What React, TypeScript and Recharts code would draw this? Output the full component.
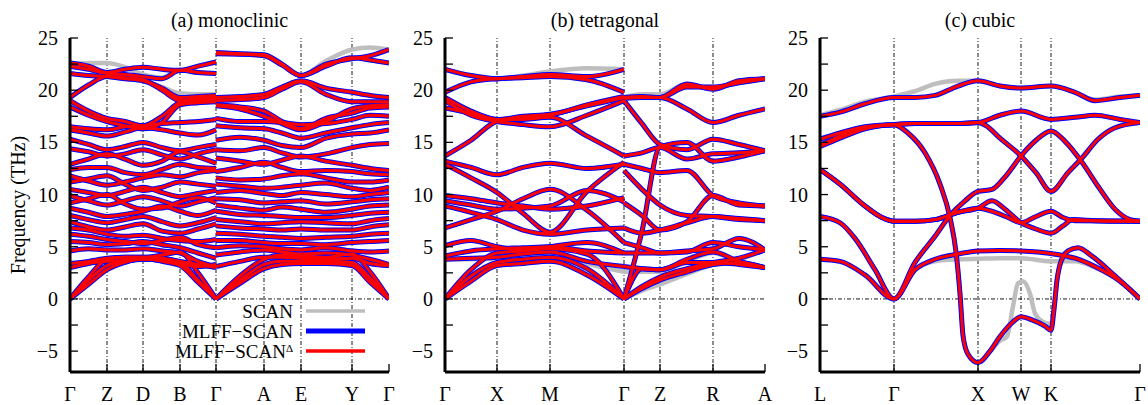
import React from 'react';
import { LineChart, Line, XAxis, YAxis, ReferenceLine } from 'recharts';

const FONT = 'Liberation Serif, DejaVu Serif, serif';
const SCAN_COLOR = '#bebebe';
const MLFF_COLOR = '#0000ff';
const DELTA_COLOR = '#ff0000';

const Y_TICKS = [-5, -2.5, 0, 2.5, 5, 7.5, 10, 12.5, 15, 17.5, 20, 22.5, 25];

// ---------- (a) monoclinic ----------
const MONO_TICKS = [0, 0.37, 0.73, 1.1, 1.46, 1.94, 2.31, 2.82, 3.19];
const MONO_LABELS = ['Γ', 'Z', 'D', 'B', 'Γ', 'A', 'E', 'Y', 'Γ'];
const MONO_K1 = [0, 0.185, 0.37, 0.55, 0.73, 0.92, 1.1, 1.28, 1.46];
const MONO_K2 = [1.46, 1.7, 1.94, 2.12, 2.31, 2.56, 2.82, 3.0, 3.19];
const MONO_SEG1 = [
  [22.6, 22.3, 21.7, 22.0, 22.2, 22.0, 21.9, 22.3, 22.7],
  [22.3, 22.0, 21.6, 21.5, 21.3, 21.1, 21.9, 21.7, 21.6],
  [21.6, 21.4, 21.3, 21.1, 20.9, 20.2, 19.3, 19.4, 19.5],
  [19.3, 20.5, 21.3, 21.2, 21.0, 20.0, 19.0, 19.2, 19.3],
  [19.0, 18.0, 17.3, 17.0, 16.6, 17.5, 18.8, 19.0, 19.1],
  [18.4, 17.6, 17.0, 16.6, 16.3, 16.9, 18.6, 18.8, 18.9],
  [16.5, 16.3, 16.2, 16.5, 16.6, 16.8, 16.9, 17.0, 17.2],
  [16.2, 15.9, 15.6, 16.0, 16.4, 16.2, 15.9, 15.7, 16.2],
  [15.3, 14.8, 14.3, 14.6, 15.0, 14.5, 14.2, 14.5, 14.8],
  [14.4, 14.1, 13.7, 13.9, 14.3, 13.8, 13.4, 13.9, 14.3],
  [12.9, 13.4, 13.9, 13.4, 12.8, 13.2, 14.1, 13.6, 13.0],
  [12.4, 12.6, 12.6, 12.1, 11.9, 12.4, 12.9, 12.6, 12.5],
  [11.8, 11.3, 10.9, 11.2, 11.6, 11.9, 11.7, 12.1, 12.3],
  [11.2, 11.5, 11.8, 11.0, 10.4, 10.7, 11.2, 11.0, 10.8],
  [10.5, 10.2, 9.9, 10.3, 10.7, 10.2, 9.8, 10.1, 10.4],
  [9.9, 9.4, 9.0, 9.4, 9.8, 9.4, 8.9, 9.3, 9.7],
  [9.2, 9.6, 10.0, 9.1, 8.6, 8.7, 9.3, 9.7, 9.2],
  [8.7, 8.3, 7.9, 8.1, 8.4, 8.9, 8.4, 8.0, 8.5],
  [8.0, 7.6, 7.3, 7.6, 7.9, 7.4, 7.0, 7.3, 7.8],
  [7.4, 6.9, 6.6, 6.9, 7.2, 6.5, 6.3, 6.7, 7.2],
  [6.8, 6.6, 6.2, 6.0, 6.1, 5.8, 5.6, 5.5, 5.7],
  [6.2, 6.0, 5.7, 5.5, 5.3, 5.6, 5.9, 5.2, 4.9],
  [5.5, 5.4, 5.2, 5.3, 5.5, 5.2, 4.9, 4.4, 3.9],
  [4.6, 4.8, 4.7, 4.7, 4.8, 4.6, 4.4, 3.6, 3.1],
  [3.4, 3.6, 3.9, 4.0, 4.0, 3.9, 3.6, 3.3, 3.0],
  [3.0, 3.4, 3.6, 3.7, 3.8, 3.7, 3.4, 3.1, 3.3],
  [0, 2.1, 3.8, 4.0, 4.0, 4.2, 4.5, 2.5, 0],
  [0, 1.8, 3.2, 3.6, 3.8, 3.8, 3.5, 1.8, 0],
  [0, 1.4, 2.8, 3.5, 3.9, 3.6, 3.2, 1.6, 0],
];
const MONO_SEG2 = [
  [23.6, 23.5, 23.4, 22.5, 21.4, 22.5, 23.0, 23.3, 23.9],
  [23.5, 23.45, 23.3, 22.4, 21.4, 22.3, 23.1, 22.9, 22.6],
  [19.3, 19.4, 19.6, 20.3, 20.9, 20.2, 19.8, 19.5, 19.3],
  [19.0, 19.1, 19.3, 20.1, 20.8, 19.6, 18.9, 18.9, 18.9],
  [18.5, 18.2, 17.5, 16.8, 16.2, 17.0, 18.2, 18.5, 18.6],
  [18.6, 18.4, 18.0, 17.0, 16.3, 17.3, 17.8, 18.3, 18.4],
  [17.3, 17.0, 17.0, 16.9, 16.7, 16.8, 17.2, 17.6, 17.5],
  [16.6, 16.4, 16.3, 15.9, 15.4, 15.9, 16.4, 16.7, 16.9],
  [15.2, 15.5, 15.2, 14.7, 14.5, 15.4, 15.8, 15.9, 16.2],
  [14.3, 14.2, 14.5, 14.0, 13.6, 13.9, 14.5, 14.8, 14.9],
  [13.5, 13.2, 12.9, 13.3, 13.7, 13.2, 12.8, 12.5, 12.3],
  [12.2, 12.6, 13.1, 12.6, 12.2, 12.3, 12.2, 12.0, 11.9],
  [11.6, 11.4, 11.5, 11.8, 12.0, 11.6, 11.2, 11.2, 11.4],
  [11.0, 10.8, 10.6, 10.7, 10.9, 11.1, 10.6, 10.4, 10.7],
  [10.2, 10.4, 10.1, 9.9, 10.2, 10.0, 9.8, 10.0, 10.2],
  [9.6, 9.5, 9.2, 9.3, 9.4, 9.1, 9.3, 9.5, 9.6],
  [9.0, 8.7, 8.5, 8.8, 8.6, 8.3, 8.6, 8.9, 9.0],
  [8.4, 8.1, 8.0, 7.9, 7.8, 7.8, 8.0, 8.2, 8.3],
  [7.6, 7.4, 7.2, 7.3, 7.4, 7.3, 7.2, 7.5, 7.7],
  [7.0, 6.8, 6.7, 6.6, 6.7, 6.6, 6.6, 6.9, 7.1],
  [6.3, 6.2, 6.0, 5.9, 5.8, 5.9, 6.0, 6.2, 6.3],
  [5.6, 5.6, 5.4, 5.3, 5.3, 5.2, 5.4, 5.5, 5.6],
  [4.9, 5.1, 5.0, 4.8, 4.7, 4.9, 4.6, 4.5, 4.6],
  [4.2, 4.5, 4.7, 4.5, 4.3, 4.4, 4.2, 3.8, 3.3],
  [3.1, 3.6, 4.0, 4.0, 3.9, 3.8, 3.9, 3.4, 3.2],
  [0, 2.2, 3.8, 4.2, 4.1, 4.0, 4.3, 2.6, 0],
  [0, 1.8, 3.3, 3.6, 3.6, 3.6, 3.5, 2.0, 0],
  [0, 1.5, 2.9, 3.3, 3.4, 3.4, 3.2, 1.6, 0],
];
// SCAN bands that differ visibly from the MLFF ones (band index -> values)
const MONO_SCAN_SEG1: Record<number, number[]> = {
  1: [22.4, 22.6, 22.6, 22.2, 21.5, 21.2, 21.9, 21.7, 21.6],
  2: [21.6, 21.4, 21.3, 21.1, 20.9, 20.3, 19.7, 19.6, 19.6],
};
const MONO_SCAN_SEG2: Record<number, number[]> = {
  0: [23.6, 23.5, 23.4, 22.5, 21.4, 22.8, 23.9, 24.1, 23.9],
};

// ---------- (b) tetragonal ----------
const TET_TICKS = [0, 0.52, 1.05, 1.79, 2.15, 2.68, 3.2];
const TET_LABELS = ['Γ', 'X', 'M', 'Γ', 'Z', 'R', 'A'];
const TET_K1 = [0, 0.26, 0.52, 0.78, 1.05, 1.42, 1.79];
const TET_K2 = [1.79, 1.97, 2.15, 2.42, 2.68, 2.94, 3.2];
const TET_SEG1 = [
  [22.0, 21.4, 21.1, 21.3, 21.5, 21.3, 22.0],
  [19.8, 20.8, 21.1, 21.2, 21.3, 21.0, 19.8],
  [19.3, 18.0, 17.2, 17.5, 17.7, 18.5, 19.3],
  [19.0, 17.6, 17.0, 16.7, 16.5, 17.6, 19.0],
  [18.3, 17.8, 17.2, 17.2, 17.4, 15.6, 13.7],
  [13.7, 15.2, 17.0, 17.3, 17.6, 18.6, 19.4],
  [13.2, 12.6, 11.9, 12.6, 13.0, 12.5, 12.9],
  [12.9, 11.6, 10.2, 8.2, 6.4, 10.3, 13.1],
  [9.9, 9.6, 9.2, 8.9, 8.6, 8.9, 9.7],
  [9.4, 9.0, 8.6, 8.7, 8.9, 10.4, 9.3],
  [8.9, 8.3, 7.6, 6.6, 6.2, 6.6, 6.8],
  [6.8, 7.6, 8.4, 9.6, 10.5, 8.5, 5.4],
  [5.1, 5.6, 5.0, 4.7, 5.0, 5.4, 4.4],
  [4.1, 4.6, 4.8, 4.9, 5.0, 4.6, 4.4],
  [3.8, 3.9, 4.0, 4.3, 4.5, 3.6, 3.1],
  [0, 2.8, 4.4, 4.6, 4.8, 4.3, 0],
  [0, 2.2, 3.5, 3.8, 4.0, 2.9, 0],
  [0, 1.7, 3.2, 3.4, 3.6, 2.3, 0],
];
const TET_SEG2 = [
  [19.3, 19.4, 19.3, 20.6, 20.1, 20.9, 21.1],
  [19.2, 19.3, 19.3, 20.3, 20.3, 20.7, 21.1],
  [19.3, 19.3, 19.3, 18.2, 16.9, 17.6, 18.2],
  [19.0, 16.8, 14.8, 14.3, 15.3, 14.8, 14.2],
  [13.7, 14.0, 14.5, 13.4, 13.9, 14.0, 14.2],
  [12.9, 12.5, 12.1, 12.3, 9.9, 9.2, 8.9],
  [9.2, 8.0, 6.6, 7.4, 9.9, 9.0, 8.9],
  [0, 6.5, 14.6, 15.0, 13.2, 13.6, 14.2],
  [12.3, 10.5, 9.0, 8.0, 7.9, 7.6, 7.5],
  [6.8, 6.3, 6.6, 7.3, 7.9, 7.7, 7.5],
  [5.4, 4.9, 4.4, 4.5, 5.4, 5.0, 4.7],
  [4.4, 4.4, 4.4, 4.6, 4.8, 5.8, 4.7],
  [3.1, 2.9, 2.8, 3.8, 4.5, 3.6, 3.0],
  [0, 2.9, 2.8, 3.5, 3.5, 3.3, 3.0],
  [0, 1.2, 2.1, 2.9, 3.5, 3.9, 4.7],
  [0, 1.0, 1.8, 2.6, 3.3, 3.5, 3.0],
];
const TET_SCAN_SEG1: Record<number, number[]> = {
  0: [22.0, 21.4, 21.1, 21.4, 21.8, 22.1, 22.0],
  14: [3.8, 3.8, 3.9, 4.2, 4.4, 3.4, 2.6],
};
const TET_SCAN_SEG2: Record<number, number[]> = {
  0: [19.3, 19.6, 19.6, 20.6, 20.1, 20.9, 21.1],
  12: [2.6, 2.6, 2.6, 3.6, 4.4, 3.6, 3.0],
  14: [0, 0.8, 1.4, 2.4, 3.3, 3.8, 4.7],
};

// ---------- (c) cubic ----------
const CUB_TICKS = [0, 0.74, 1.58, 2.01, 2.31, 3.2];
const CUB_LABELS = ['L', 'Γ', 'X', 'W', 'K', 'Γ'];
// each band: [k, frequency] pairs
const CUB_BANDS: number[][][] = [
  [[0, 17.5], [0.2, 17.9], [0.45, 18.7], [0.74, 19.3], [0.95, 19.3], [1.15, 19.5], [1.38, 20.4], [1.58, 20.9], [1.8, 20.4], [2.01, 20.2], [2.31, 20.4], [2.55, 19.8], [2.75, 19.0], [3.0, 19.3], [3.2, 19.5]],
  [[0, 15.3], [0.2, 15.9], [0.45, 16.5], [0.74, 16.7], [0.95, 16.8], [1.15, 16.8], [1.38, 16.8], [1.58, 16.9], [1.8, 17.6], [2.01, 18.0], [2.31, 17.2], [2.55, 17.4], [2.75, 17.6], [3.0, 17.2], [3.2, 16.9]],
  [[0, 14.7], [0.2, 15.6], [0.45, 16.4], [0.74, 16.7], [0.95, 16.8], [1.15, 16.8], [1.38, 16.8], [1.58, 16.9], [1.66, 16.6], [1.8, 15.4], [2.01, 13.7], [2.16, 12.1], [2.31, 10.3], [2.48, 12.1], [2.62, 13.5], [2.78, 15.3], [2.95, 16.4], [3.2, 16.9]],
  [[0, 14.6], [0.2, 15.4], [0.45, 16.3], [0.74, 16.7], [0.88, 15.9], [1.05, 14.0], [1.2, 11.0], [1.3, 7.8], [1.36, 4.5], [1.4, 0.5], [1.43, -3.5], [1.48, -5.3], [1.58, -6.1], [1.7, -5.0], [1.8, -3.6], [1.93, -2.2], [2.01, -1.7], [2.12, -2.0], [2.25, -2.6], [2.31, -3.0], [2.34, -1.0], [2.37, 1.8], [2.41, 3.6], [2.48, 4.6], [2.58, 4.9], [2.72, 4.1], [2.95, 2.2], [3.2, 0]],
  [[0, 12.4], [0.2, 11.0], [0.45, 8.9], [0.62, 7.8], [0.74, 7.45], [0.95, 7.45], [1.15, 7.6], [1.38, 8.3], [1.58, 8.7], [1.72, 9.4], [1.85, 8.6], [2.01, 7.3], [2.16, 6.7], [2.31, 6.3], [2.43, 7.0], [2.53, 7.6], [2.75, 7.5], [3.0, 7.45], [3.2, 7.45]],
  [[0, 12.4], [0.2, 11.0], [0.45, 8.9], [0.62, 7.8], [0.74, 7.45], [0.95, 7.45], [1.15, 7.6], [1.38, 8.3], [1.58, 8.7], [1.75, 8.3], [1.88, 7.8], [2.01, 7.3], [2.16, 7.9], [2.31, 8.4], [2.43, 7.8], [2.55, 7.5], [3.2, 7.45]],
  [[0, 7.9], [0.2, 7.3], [0.35, 5.8], [0.55, 2.8], [0.74, 0], [0.95, 3.5], [1.15, 6.0], [1.3, 8.0], [1.45, 9.4], [1.58, 10.3], [1.72, 10.5], [1.86, 11.8], [2.01, 13.7], [2.16, 15.2], [2.31, 16.1], [2.45, 15.1], [2.62, 13.1], [2.78, 10.8], [2.95, 8.6], [3.1, 7.6], [3.2, 7.45]],
  [[0, 3.8], [0.2, 3.6], [0.45, 2.3], [0.74, 0], [0.95, 2.8], [1.15, 3.8], [1.38, 4.3], [1.58, 4.6], [1.8, 4.65], [2.01, 4.6], [2.31, 4.35], [2.55, 3.9], [2.75, 3.1], [3.0, 1.7], [3.2, 0]],
];
const CUB_SCAN_BANDS: Record<number, number[][]> = {
  0: [[0, 17.6], [0.2, 18.1], [0.45, 18.9], [0.74, 19.4], [0.95, 19.9], [1.15, 20.6], [1.38, 20.9], [1.58, 20.9], [1.8, 20.4], [2.01, 20.2], [2.31, 20.4], [2.55, 19.8], [2.75, 19.1], [3.0, 19.4], [3.2, 19.5]],
  3: [[0, 14.6], [0.2, 15.4], [0.45, 16.3], [0.74, 16.7], [0.88, 15.9], [1.05, 14.0], [1.2, 11.0], [1.3, 7.8], [1.36, 4.5], [1.4, 0.5], [1.43, -3.5], [1.48, -5.3], [1.58, -6.1], [1.7, -5.0], [1.8, -4.0], [1.87, -3.6], [1.93, -0.7], [1.98, 1.5], [2.03, 1.7], [2.1, 0.5], [2.15, -1.4], [2.23, -2.2], [2.31, -2.4], [2.34, -1.0], [2.37, 1.8], [2.41, 3.6], [2.48, 4.6], [2.58, 4.9], [2.72, 4.1], [2.95, 2.2], [3.2, 0]],
  7: [[0, 3.8], [0.2, 3.6], [0.45, 2.3], [0.74, 0], [0.95, 2.8], [1.15, 3.6], [1.38, 3.8], [1.58, 3.85], [1.8, 3.9], [2.01, 3.9], [2.31, 3.6], [2.55, 3.6], [2.75, 3.0], [3.0, 1.7], [3.2, 0]],
};

type Pt = { k: number; f: number };

const fromGrid = (k: number[], rows: number[][]): Pt[][] =>
  rows.map((r) => r.map((f, i) => ({ k: k[i], f })));
const fromPairs = (rows: number[][][]): Pt[][] => rows.map((r) => r.map(([k, f]) => ({ k, f })));
const withScan = (rows: number[][], over: Record<number, number[]>) =>
  rows.map((r, i) => over[i] ?? r);

const MONO_MLFF = [...fromGrid(MONO_K1, MONO_SEG1), ...fromGrid(MONO_K2, MONO_SEG2)];
const MONO_SCAN = [
  ...fromGrid(MONO_K1, withScan(MONO_SEG1, MONO_SCAN_SEG1)),
  ...fromGrid(MONO_K2, withScan(MONO_SEG2, MONO_SCAN_SEG2)),
];
const TET_MLFF = [...fromGrid(TET_K1, TET_SEG1), ...fromGrid(TET_K2, TET_SEG2)];
const TET_SCAN = [
  ...fromGrid(TET_K1, withScan(TET_SEG1, TET_SCAN_SEG1)),
  ...fromGrid(TET_K2, withScan(TET_SEG2, TET_SCAN_SEG2)),
];
const CUB_MLFF = fromPairs(CUB_BANDS);
const CUB_SCAN = fromPairs(CUB_BANDS.map((b, i) => CUB_SCAN_BANDS[i] ?? b));

const AXIS = { stroke: '#000', strokeWidth: 3 };
const TICK_LINE = { stroke: '#000', strokeWidth: 1.3 };
const TICK_TEXT = { fill: '#000', fontSize: 20, fontFamily: FONT };
const GRID = { stroke: '#000', strokeWidth: 0.9, strokeDasharray: '4 2 1 2' };

const fmtY = (v: number) => (v % 5 === 0 ? (v < 0 ? '\u2212' + Math.abs(v) : String(v)) : '');

interface PanelProps {
  left: number;
  width: number;
  kMax: number;
  ticks: number[];
  labels: string[];
  scan: Pt[][];
  mlff: Pt[][];
}

function Panel({ left, width, kMax, ticks, labels, scan, mlff }: PanelProps) {
  const layers: { key: string; color: string; w: number; bands: Pt[][] }[] = [
    { key: 's', color: SCAN_COLOR, w: 4.5, bands: scan },
    { key: 'm', color: MLFF_COLOR, w: 5, bands: mlff },
    { key: 'd', color: DELTA_COLOR, w: 3, bands: mlff },
  ];
  return (
    <div style={{ position: 'absolute', left: left - 70, top: 0 }}>
      <LineChart width={70 + width + 12} height={405} margin={{ top: 38, right: 12, bottom: 3, left: 30 }}>
        <XAxis
          dataKey="k"
          type="number"
          domain={[0, kMax]}
          ticks={ticks}
          interval={0}
          allowDataOverflow
          height={30}
          tickFormatter={(_v: number, i: number) => labels[i]}
          tickSize={-8}
          tickMargin={23}
          axisLine={AXIS}
          tickLine={TICK_LINE}
          tick={TICK_TEXT}
        />
        <XAxis
          xAxisId="top"
          orientation="top"
          type="number"
          domain={[0, kMax]}
          ticks={ticks}
          interval={0}
          allowDataOverflow
          height={0}
          tick={false}
          tickSize={-8}
          axisLine={AXIS}
          tickLine={TICK_LINE}
        />
        <YAxis
          type="number"
          domain={[-7, 25]}
          ticks={Y_TICKS}
          interval={0}
          allowDataOverflow
          width={40}
          tickSize={-8}
          tickMargin={20}
          tickFormatter={fmtY}
          axisLine={AXIS}
          tickLine={TICK_LINE}
          tick={TICK_TEXT}
        />
        <YAxis
          yAxisId="right"
          orientation="right"
          type="number"
          domain={[-7, 25]}
          ticks={Y_TICKS}
          interval={0}
          allowDataOverflow
          width={0}
          tick={false}
          tickSize={-8}
          axisLine={AXIS}
          tickLine={TICK_LINE}
        />
        {ticks.slice(1, -1).map((k) => (
          <ReferenceLine key={'g' + k} x={k} {...GRID} />
        ))}
        <ReferenceLine y={0} {...GRID} />
        {layers.map((layer) =>
          layer.bands.map((d, i) => (
            <Line
              key={layer.key + i}
              data={d}
              dataKey="f"
              type="monotone"
              stroke={layer.color}
              strokeWidth={layer.w}
              dot={false}
              activeDot={false}
              legendType="none"
              isAnimationActive={false}
            />
          ))
        )}
      </LineChart>
    </div>
  );
}

const LEGEND = [
  { name: 'SCAN', color: SCAN_COLOR, w: 3.5, sup: '' },
  { name: 'MLFF\u2212SCAN', color: MLFF_COLOR, w: 5, sup: '' },
  { name: 'MLFF\u2212SCAN', color: DELTA_COLOR, w: 3.5, sup: 'Δ' },
];
const TITLES = [
  { text: '(a) monoclinic', x: 229.5 },
  { text: '(b) tetragonal', x: 605 },
  { text: '(c) cubic', x: 980 },
];

export default function App() {
  return (
    <div style={{ position: 'absolute', left: 0, top: 0, width: 1148, height: 405, background: '#fff', fontFamily: FONT }}>
      <Panel left={70} width={319} kMax={3.19} ticks={MONO_TICKS} labels={MONO_LABELS} scan={MONO_SCAN} mlff={MONO_MLFF} />
      <Panel left={445} width={320} kMax={3.2} ticks={TET_TICKS} labels={TET_LABELS} scan={TET_SCAN} mlff={TET_MLFF} />
      <Panel left={820} width={320} kMax={3.2} ticks={CUB_TICKS} labels={CUB_LABELS} scan={CUB_SCAN} mlff={CUB_MLFF} />
      <svg width={1148} height={405} style={{ position: 'absolute', left: 0, top: 0, pointerEvents: 'none' }}>
        {TITLES.map((t) => (
          <text key={t.text} x={t.x} y={27} textAnchor="middle" fontSize={20} fontFamily={FONT}>
            {t.text}
          </text>
        ))}
        <text transform="translate(25,205) rotate(-90)" textAnchor="middle" fontSize={20} fontFamily={FONT}>
          Frequency (THz)
        </text>
        {LEGEND.map((it, i) => (
          <g key={i}>
            <text x={293} y={318 + i * 20} textAnchor="end" fontSize={19} fontFamily={FONT}>
              {it.name}
              {it.sup && (
                <tspan dy={-6} fontSize={11}>
                  {it.sup}
                </tspan>
              )}
            </text>
            <line x1={306} x2={365} y1={311 + i * 20} y2={311 + i * 20} stroke={it.color} strokeWidth={it.w} />
          </g>
        ))}
      </svg>
    </div>
  );
}
